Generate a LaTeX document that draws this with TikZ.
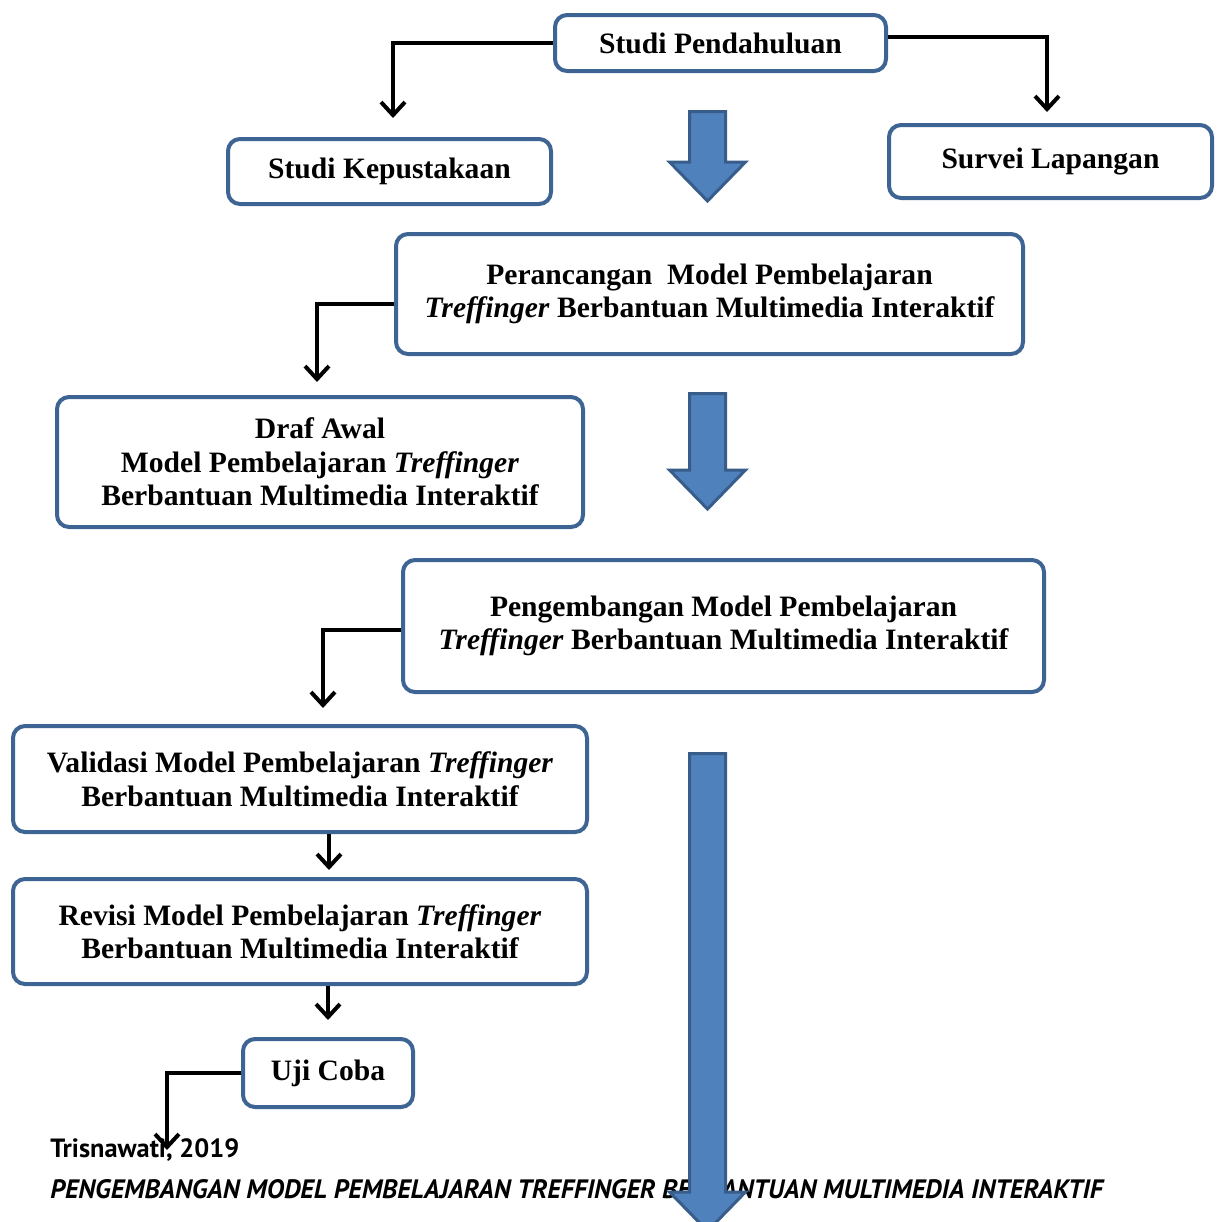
\documentclass[tikz,border=0pt]{standalone}
\usepackage{fontspec}
\setmainfont{Liberation Serif}
\newfontfamily\footfont{PT Sans}
\usetikzlibrary{arrows.meta}

\definecolor{boxblue}{RGB}{62,100,148}
\definecolor{arrowfill}{RGB}{79,129,189}
\definecolor{arrowline}{RGB}{56,93,138}

\tikzset{
  stage/.style={draw=boxblue, line width=2pt, rounded corners=6pt, fill=white,
    align=center, inner sep=0pt,
    font=\fontsize{14.8pt}{16.75pt}\selectfont\bfseries},
  conn/.style={line width=2pt, -{Straight Barb[length=6.5pt,width=12pt,line width=2pt]}},
  bigarrow/.style={fill=arrowfill, draw=arrowline, line width=1.5pt, line join=miter}
}

% shaft centre x, top y, tip y (in px)
\newcommand{\bigdown}[3]{%
  \draw[bigarrow] (#1-18,#2) -- (#1+18,#2) -- (#1+18,#3-39) -- (#1+38,#3-39)
    -- (#1,#3) -- (#1-38,#3-39) -- (#1-18,#3-39) -- cycle;}

\begin{document}
\begin{tikzpicture}[x=0.5pt,y=-0.5pt]
\useasboundingbox (0,0) rectangle (1222,1222);

% footer text
\node[anchor=base west, inner sep=0pt, font=\footfont\fontsize{13.2pt}{14pt}\selectfont\bfseries]
  (cite) at (50,1157) {Trisnawati, 2019};
\node[anchor=base west, inner sep=0pt, font=\footfont\fontsize{13.3pt}{14pt}\selectfont\bfseries\itshape]
  (title) at (50,1198) {PENGEMBANGAN MODEL PEMBELAJARAN TREFFINGER BERBANTUAN MULTIMEDIA INTERAKTIF};

% stages
\node[stage, minimum width=165.5pt, minimum height=28pt] (pend) at (720.5,43) {Studi Pendahuluan};
\node[stage, minimum width=161.5pt, minimum height=32.5pt] (pust) at (389.5,171.5) {Studi Kepustakaan};
\node[stage, minimum width=161.5pt, minimum height=36.5pt] (surv) at (1050.5,161.5) {Survei Lapangan};
\node[stage, minimum width=313.5pt, minimum height=60pt] (ranc) at (709.5,294)
  {Perancangan\ \ Model Pembelajaran\\\textit{Treffinger} Berbantuan Multimedia Interaktif};
\node[stage, minimum width=263pt, minimum height=65pt] (draf) at (320,462)
  {Draf Awal\\Model Pembelajaran \textit{Treffinger}\\Berbantuan Multimedia Interaktif};
\node[stage, minimum width=320.5pt, minimum height=66pt] (kemb) at (723.5,626)
  {Pengembangan Model Pembelajaran\\\textit{Treffinger} Berbantuan Multimedia Interaktif};
\node[stage, minimum width=287pt, minimum height=53pt] (vali) at (300,779)
  {Validasi Model Pembelajaran \textit{Treffinger}\\Berbantuan Multimedia Interaktif};
\node[stage, minimum width=287pt, minimum height=52.5pt] (revi) at (300,931.5)
  {Revisi Model Pembelajaran \textit{Treffinger}\\Berbantuan Multimedia Interaktif};
\node[stage, minimum width=85pt, minimum height=34pt] (ujic) at (328,1073) {Uji Coba};

% free ends of the connectors
\coordinate (pustin) at (393,118);
\coordinate (survin) at (1047,112);
\coordinate (drafin) at (317,382);
\coordinate (valiin) at (323,708);
\coordinate (ujiout) at (167,1150);

\draw[conn] (pend.west) -| (pustin);
\draw[conn] ([yshift=3pt]pend.east) -| (survin);
\draw[conn] ([yshift=-5pt]ranc.west) -| (drafin);
\draw[conn] ([yshift=-2pt]kemb.west) -| (valiin);
\draw[conn] ([xshift=14.5pt]vali.south) -- ([xshift=14.5pt,yshift=3.5pt]revi.north);
\draw[conn] (revi.south -| ujic.north) -- ([yshift=8.5pt]ujic.north);
\draw[conn] (ujic.west) -| (ujiout);

% block arrows
\bigdown{707.5}{111.5}{201}
\bigdown{707.5}{393.5}{509}
\bigdown{707.5}{753.5}{1231}
\end{tikzpicture}
\end{document}
